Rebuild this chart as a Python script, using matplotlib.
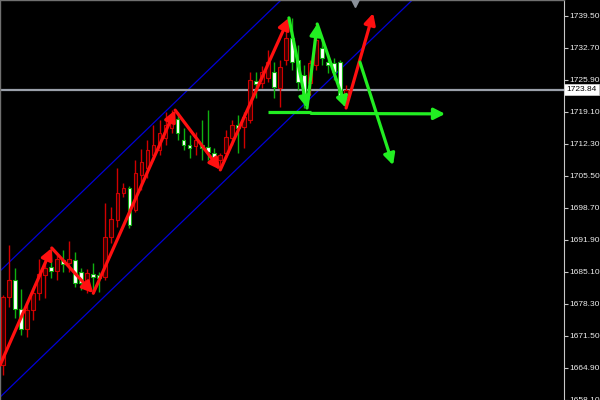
import matplotlib
matplotlib.use("Agg")
import matplotlib.pyplot as plt
import matplotlib.transforms as mtransforms
import numpy as np

# candle data (bar index 0..57)
opens = [1665.34, 1679.79, 1683.40, 1677.24, 1672.99, 1677.03, 1680.64, 1684.46, 1686.16, 1685.31,
         1687.65, 1687.01, 1687.65, 1685.10, 1681.91, 1684.68, 1684.46, 1684.04, 1692.54, 1696.15,
         1701.89, 1702.95, 1698.28, 1705.71, 1707.20, 1709.96, 1711.03, 1713.58, 1715.70, 1717.61,
         1713.15, 1712.09, 1711.88, 1712.09, 1711.66, 1710.39, 1708.90, 1710.39, 1713.58, 1716.34,
         1715.91, 1717.40, 1725.69, 1725.26, 1726.33, 1727.60, 1724.20, 1730.15, 1734.83, 1730.15,
         1726.96, 1725.26, 1729.09, 1732.70, 1729.73, 1729.51, 1729.73, 1722.29]
highs = [1680.21, 1690.84, 1685.95, 1681.49, 1678.73, 1681.70, 1687.86, 1687.65, 1690.20, 1688.71,
         1689.78, 1691.69, 1689.35, 1685.95, 1685.74, 1687.01, 1685.10, 1699.76, 1698.91, 1707.20,
         1704.01, 1703.38, 1708.90, 1711.24, 1713.15, 1716.34, 1717.40, 1719.10, 1719.53, 1719.10,
         1715.70, 1714.21, 1714.85, 1717.40, 1719.53, 1711.45, 1710.39, 1715.28, 1717.40, 1718.46,
         1719.10, 1727.60, 1727.60, 1728.88, 1732.28, 1729.73, 1730.15, 1738.65, 1739.08, 1733.34,
         1729.09, 1730.15, 1737.80, 1734.40, 1731.21, 1730.58, 1730.15, 1724.84]
lows = [1663.21, 1677.66, 1675.33, 1671.71, 1671.29, 1674.90, 1679.15, 1679.58, 1683.83, 1683.40,
        1685.10, 1685.10, 1681.91, 1681.28, 1680.64, 1680.43, 1680.85, 1683.40, 1691.26, 1694.66,
        1701.04, 1694.45, 1697.85, 1702.53, 1705.08, 1708.90, 1709.96, 1712.09, 1714.64, 1713.15,
        1711.03, 1709.33, 1709.96, 1708.90, 1708.90, 1707.84, 1706.78, 1709.54, 1712.09, 1710.39,
        1711.45, 1716.76, 1722.08, 1724.20, 1725.48, 1722.08, 1720.16, 1729.09, 1728.03, 1723.78,
        1719.95, 1722.71, 1728.03, 1729.09, 1727.39, 1725.90, 1721.65, 1720.16]
closes = [1679.79, 1683.40, 1677.24, 1672.99, 1677.03, 1680.64, 1684.68, 1685.95, 1685.31, 1687.86,
          1686.80, 1687.86, 1682.76, 1682.76, 1684.89, 1684.04, 1683.83, 1692.54, 1696.36, 1701.89,
          1702.95, 1695.09, 1706.14, 1708.48, 1711.03, 1712.09, 1714.64, 1716.34, 1718.04, 1714.64,
          1712.09, 1711.45, 1713.15, 1711.45, 1710.60, 1709.11, 1709.96, 1713.79, 1716.34, 1715.70,
          1718.04, 1725.90, 1725.05, 1727.60, 1729.73, 1724.41, 1728.66, 1734.83, 1729.73, 1725.48,
          1722.71, 1729.51, 1734.40, 1730.58, 1729.09, 1727.60, 1722.29, 1723.84]
bid = 1723.84

# zigzag pivots (bar index, price)
red_zz_x = [-0.5, 8.1, 15.0, 28.6, 36.1, 47.5]
red_zz_y = [1665.3, 1690.2, 1680.6, 1719.5, 1706.8, 1739.1]
green_zz_x = [47.5, 50.5, 52.2, 57.0]
green_zz_y = [1739.1, 1719.95, 1737.8, 1719.95]
red_proj_x = [57.0, 61.5]
red_proj_y = [1719.95, 1740.1]
green_proj_x = [59.3, 64.8]
green_proj_y = [1729.7, 1707.8]
neck_x = [44.0, 51.2, 73.45]
neck_y = [1719.1, 1718.8, 1718.7]

# regression channel anchors
chan_upper = [(-0.5, 1685.3), (46.2, 1742.9)]
chan_lower = [(-0.5, 1658.5), (68.0, 1742.9)]

# price scale
tick_vals = [1739.5 - 6.8 * k for k in range(13)]
tick_labels = ["1739.50", "1732.70", "1725.90", "1719.10", "1712.30", "1705.50", "1698.70",
               "1691.90", "1685.10", "1678.30", "1671.50", "1664.90", "1658.10"]

fig = plt.figure(figsize=(6, 4), dpi=100, facecolor='black')
ax = fig.add_axes([0, 0, 564 / 600, 1])
ax.set_facecolor('black')

o = np.array(opens); h = np.array(highs); l = np.array(lows); c = np.array(closes)
x = np.arange(len(o))
up = c >= o

c_red = '#d00000'
c_cgreen = '#10b010'

# wicks
ax.vlines(x[up], l[up], h[up], color=c_red, lw=1.0, zorder=2)
ax.vlines(x[~up], l[~up], h[~up], color=c_cgreen, lw=1.0, zorder=2)
# bodies
body_lo = np.minimum(o, c)
body_h = np.maximum(np.abs(c - o), 0.4)
ax.bar(x[up], body_h[up], bottom=body_lo[up], width=0.62, color='#3a0000',
       edgecolor=c_red, linewidth=0.8, zorder=3)
ax.bar(x[~up], body_h[~up], bottom=body_lo[~up], width=0.62, color='white',
       edgecolor=c_cgreen, linewidth=0.8, zorder=3)

# channel
for a, b in (chan_upper, chan_lower):
    ax.axline(a, b, color='#0000d8', lw=0.9, zorder=1)

# bid line
ax.axhline(bid, color='#9aa0aa', lw=1.6, zorder=1)


def arrow(x0, y0, x1, y1, col):
    ax.annotate('', xy=(x1, y1), xytext=(x0, y0),
                arrowprops=dict(arrowstyle='-|>,head_length=0.55,head_width=0.28',
                                color=col, lw=2.3, mutation_scale=12,
                                shrinkA=0, shrinkB=0), zorder=5)


c_zr = '#ff1010'
c_zg = '#22ee22'
for k in range(len(red_zz_x) - 1):
    arrow(red_zz_x[k], red_zz_y[k], red_zz_x[k + 1], red_zz_y[k + 1], c_zr)
for k in range(len(green_zz_x) - 1):
    arrow(green_zz_x[k], green_zz_y[k], green_zz_x[k + 1], green_zz_y[k + 1], c_zg)
arrow(red_proj_x[0], red_proj_y[0], red_proj_x[1], red_proj_y[1], c_zr)
arrow(green_proj_x[0], green_proj_y[0], green_proj_x[1], green_proj_y[1], c_zg)
ax.plot(neck_x[:2], [neck_y[0], neck_y[0]], color=c_zg, lw=2.3, solid_capstyle='butt', zorder=5)
arrow(neck_x[1], neck_y[1], neck_x[2], neck_y[2], c_zg)

# shift marker at top
trans = mtransforms.blended_transform_factory(ax.transData, ax.transAxes)
ax.plot([58.5], [0.993], marker='v', ms=6, color='#8a9099', transform=trans,
        clip_on=False, zorder=6)

ax.set_xlim(-0.5, 93.2)
ax.set_ylim(1657.9, 1742.9)
ax.set_xticks([])
ax.yaxis.tick_right()
ax.set_yticks(tick_vals)
ax.set_yticklabels(tick_labels, family=['Liberation Sans Narrow', 'Liberation Sans'])
ax.tick_params(axis='y', direction='out', length=3, width=0.8, color='#c8c8c8',
               labelcolor='#ececec', labelsize=6, pad=1)
for side in ('left', 'top'):
    ax.spines[side].set_color('#707070')
    ax.spines[side].set_linewidth(1.0)
ax.spines['right'].set_color('#c8c8c8')
ax.spines['bottom'].set_visible(False)

# current price label
trans2 = mtransforms.blended_transform_factory(ax.transAxes, ax.transData)
ax.text(1.004, bid, "1723.84", transform=trans2, ha='left', va='center', fontsize=6,
        family=['Liberation Sans Narrow', 'Liberation Sans'], color='black',
        bbox=dict(boxstyle='square,pad=0.25', fc='white', ec='#c8c8c8', lw=0.6),
        clip_on=False, zorder=7)

fig.savefig('out.png', dpi=100, facecolor='black')
